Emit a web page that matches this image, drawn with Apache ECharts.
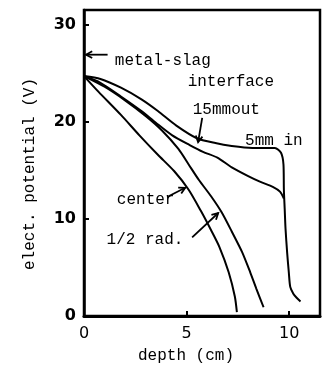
<!DOCTYPE html>
<html>
<head>
<meta charset="utf-8">
<title>elect. potential vs depth</title>
<script src="https://cdn.jsdelivr.net/npm/echarts@6/dist/echarts.min.js"></script>
<style>
    html, body {
        margin: 0;
        padding: 0;
        background: #fff;
    }

    #main {
        width: 325px;
        height: 367px;
    }
</style>
</head>
<body>
<div id="main"></div>
<script>
    // values, [depth (cm), potential (V)]
    var in5mm = [[0, 24.7], [0.8, 24.4], [1.8, 23.5], [2.8, 22.3], [3.6, 21.1], [4.5, 19.6], [5.5, 18.3],
        [6.4, 17.8], [7.2, 17.5], [8.2, 17.3], [9.3, 17.3], [9.6, 16.8], [9.72, 15.6], [9.74, 13.0],
        [9.78, 11.0], [9.82, 9.0], [9.9, 6.5], [9.98, 4.5], [10.05, 3.0], [10.2, 2.3], [10.35, 1.9], [10.55, 1.5]];
    var out15mm = [[0, 24.7], [0.8, 24.0], [1.8, 22.6], [2.8, 21.1], [3.5, 19.9], [4.3, 18.6], [5.15, 17.6],
        [5.8, 16.9], [6.5, 16.3], [7.2, 15.3], [8.0, 14.4], [8.6, 13.8], [9.2, 13.3], [9.55, 12.8], [9.74, 12.1]];
    var halfRad = [[0, 24.7], [1, 23.6], [2, 22.2], [3, 20.6], [3.8, 19.1], [4.6, 17.2], [5.1, 15.6], [5.6, 14.0],
        [6.2, 12.3], [6.7, 10.7], [7.2, 8.7], [7.7, 6.6], [8.1, 4.5], [8.4, 2.8], [8.75, 0.9]];
    var center = [[0, 24.7], [0.7, 23.1], [1.8, 20.7], [2.7, 18.6], [3.6, 16.6], [4.4, 14.9], [5.1, 13.0],
        [5.7, 10.8], [6.2, 8.8], [6.6, 7.1], [7.05, 4.5], [7.35, 2.0], [7.45, 0.4]];

    var xTicks = [0, 5, 10];
    var yTicks = [0, 10, 20, 30];

    // annotation texts and arrows (data coords)
    var labels = [
        { text: 'metal-slag', at: [1.5, 26.3] },
        { text: 'interface', at: [5.05, 24.1] },
        { text: '15mmout', at: [5.3, 21.2] },
        { text: '5mm in', at: [7.85, 18.0] },
        { text: 'center', at: [1.6, 12.0] },
        { text: '1/2 rad.', at: [1.1, 7.8] }
    ];
    var arrows = [
        { from: [1.15, 26.9], to: [0.1, 26.9] },
        { from: [5.76, 20.4], to: [5.56, 17.9] },
        { from: [4.1, 12.3], to: [4.93, 13.2] },
        { from: [5.27, 8.1], to: [6.54, 10.6] }
    ];

    var chart = echarts.init(document.getElementById('main'));

    function curve(name, pts) {
        return {
            name: name,
            type: 'line',
            data: pts,
            showSymbol: false,
            smooth: 0.25,
            lineStyle: { color: '#000', width: 2 },
            animation: false
        };
    }

    chart.setOption({
        animation: false,
        grid: {
            left: 84,
            right: 5,
            top: 10,
            bottom: 51,
            show: true,
            borderColor: '#000',
            borderWidth: 2.5
        },
        xAxis: {
            type: 'value',
            min: 0,
            max: 11.5,
            interval: 5,
            splitLine: { show: false },
            axisLine: { lineStyle: { color: '#000', width: 3 } },
            axisTick: { inside: true, length: 5, customValues: xTicks, lineStyle: { color: '#000', width: 2 } },
            axisLabel: {
                customValues: xTicks,
                margin: 10,
                color: '#000',
                fontFamily: 'DejaVu Sans',
                fontSize: 16
            }
        },
        yAxis: {
            type: 'value',
            min: 0,
            max: 31.5,
            interval: 10,
            splitLine: { show: false },
            axisLine: { lineStyle: { color: '#000', width: 2.5 } },
            axisTick: { inside: true, length: 5, customValues: yTicks, lineStyle: { color: '#000', width: 2 } },
            axisLabel: {
                customValues: yTicks,
                margin: 8,
                color: '#000',
                fontFamily: 'DejaVu Sans',
                fontWeight: 'bold',
                fontSize: 16
            }
        },
        series: [
            curve('5mm in', in5mm),
            curve('15mm out', out15mm),
            curve('1/2 rad.', halfRad),
            curve('center', center)
        ]
    });

    // put the texts and arrows on with the chart's own scale
    var font = '16px "Liberation Mono"';
    var g = [];
    labels.forEach(function (l) {
        var p = chart.convertToPixel({ gridIndex: 0 }, l.at);
        g.push({
            type: 'text', x: p[0], y: p[1],
            style: { text: l.text, font: font, fill: '#000', textAlign: 'left', textVerticalAlign: 'middle' }
        });
    });
    arrows.forEach(function (a) {
        var p0 = chart.convertToPixel({ gridIndex: 0 }, a.from);
        var p1 = chart.convertToPixel({ gridIndex: 0 }, a.to);
        var ang = Math.atan2(p1[1] - p0[1], p1[0] - p0[0]);
        var h = 7;
        var l1 = [p1[0] - h * Math.cos(ang - 0.5), p1[1] - h * Math.sin(ang - 0.5)];
        var l2 = [p1[0] - h * Math.cos(ang + 0.5), p1[1] - h * Math.sin(ang + 0.5)];
        g.push({ type: 'polyline', shape: { points: [p0, p1] }, style: { stroke: '#000', lineWidth: 1.8, fill: null } });
        g.push({ type: 'polyline', shape: { points: [l1, p1, l2] }, style: { stroke: '#000', lineWidth: 1.8, fill: null } });
    });
    // axis names
    g.push({
        type: 'text', x: 30, y: 174, rotation: Math.PI / 2,
        style: { text: 'elect. potential (V)', font: font, fill: '#000', textAlign: 'center', textVerticalAlign: 'middle' }
    });
    g.push({
        type: 'text', x: 186, y: 356,
        style: { text: 'depth (cm)', font: font, fill: '#000', textAlign: 'center', textVerticalAlign: 'middle' }
    });
    chart.setOption({ graphic: g });
</script>
</body>
</html>
